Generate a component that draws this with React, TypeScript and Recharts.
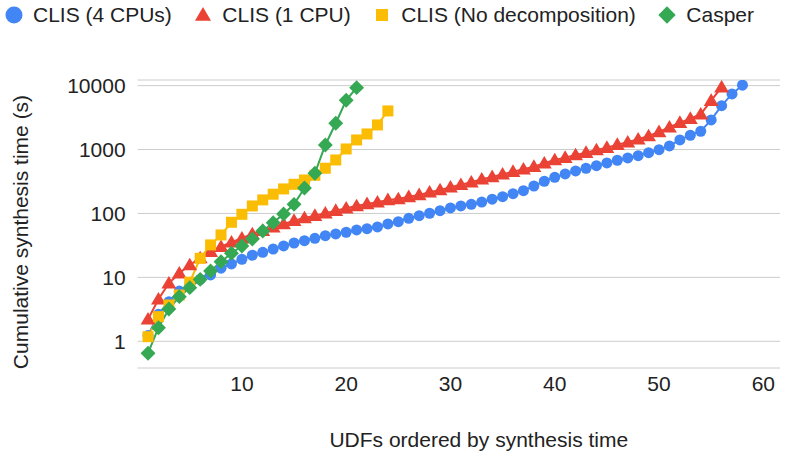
import React from 'react';
import { LineChart, Line, XAxis, YAxis, CartesianGrid } from 'recharts';

const FONT = "'Liberation Sans', Arial, sans-serif";

// cumulative synthesis time (s), UDF index starts at 1
const clis4Cpus = [
  1.23, 2.65, 4.17, 6.1, 7.7, 9.3, 10.9, 13.9, 16.2, 19.2,
  22.2, 24.7, 27.8, 31, 34.5, 37.5, 40.9, 45, 47.8, 50.8,
  55.2, 57.8, 61.5, 68.5, 74.5, 84, 92.4, 100.8, 110.6, 122,
  131, 139, 151, 167, 183, 204, 227, 269, 319, 368,
  415, 462, 510, 560, 617, 680, 739, 803, 894, 996,
  1138, 1413, 1674, 1933, 2904, 4864, 7413, 10150,
];
const clis1Cpu = [
  2.21, 4.54, 8.1, 11.6, 15.6, 20.1, 25.3, 30.2, 35.4, 40.9,
  47.8, 53.8, 60.8, 68.5, 77.1, 85.1, 92.4, 100.8, 110.6, 120.5,
  131, 141, 150, 163, 168, 182, 195, 215, 233, 257,
  282, 308, 343, 373, 410, 451, 492, 540, 610, 687,
  747, 823, 894, 986, 1071, 1194, 1302, 1450, 1633, 1887,
  2235, 2637, 3046, 3569, 5825, 9440,
];
const clisNoDecomp = [
  1.18, 2.43, 3.7, 5.3, 8.4, 19.9, 32.2, 46.1, 72.8, 97,
  131, 163, 200, 242, 286, 334, 396, 510, 687, 1021,
  1413, 1754, 2427, 4020,
];
const casper = [
  0.65, 1.63, 3.2, 4.99, 6.9, 9.3, 12.6, 17.6, 23.8, 31,
  39.9, 53.2, 71.8, 98, 139, 250, 426, 1180, 2583, 5900,
  9300,
];

const xTicks = [10, 20, 30, 40, 50, 60];
const yTicks = [1, 10, 100, 1000, 10000];

const series = [
  { key: 'cpu4', name: 'CLIS (4 CPUs)', color: '#4285F4', shape: 'circle', values: clis4Cpus },
  { key: 'cpu1', name: 'CLIS (1 CPU)', color: '#EA4335', shape: 'triangle', values: clis1Cpu },
  { key: 'nodec', name: 'CLIS (No decomposition)', color: '#FBBC04', shape: 'square', values: clisNoDecomp },
  { key: 'casper', name: 'Casper', color: '#34A853', shape: 'diamond', values: casper },
];

const count = Math.max(...series.map(s => s.values.length));
const rows = Array.from({ length: count }, (_, i) => {
  const row: any = { x: i + 1 };
  series.forEach(s => {
    if (i < s.values.length) row[s.key] = s.values[i];
  });
  return row;
});

function Shape({ shape, cx, cy, color, size }: any) {
  if (shape === 'circle') return <circle cx={cx} cy={cy} r={size * 0.5} fill={color} />;
  if (shape === 'triangle') {
    const h = size * 1.05;
    const w = size * 0.62;
    return <polygon points={`${cx},${cy - h * 0.58} ${cx - w},${cy + h * 0.42} ${cx + w},${cy + h * 0.42}`} fill={color} />;
  }
  if (shape === 'square') {
    const a = size * 0.5;
    return <rect x={cx - a} y={cy - a} width={a * 2} height={a * 2} fill={color} />;
  }
  const d = size * 0.62;
  return <polygon points={`${cx},${cy - d} ${cx + d},${cy} ${cx},${cy + d} ${cx - d},${cy}`} fill={color} />;
}

const legendSizes: any = { circle: 17, triangle: 13, square: 12, diamond: 14 };

function ChartLegend() {
  return (
    <div style={{ position: 'absolute', top: 0, left: 3.5, height: 29, display: 'flex', alignItems: 'center', fontFamily: FONT, fontSize: 21, color: '#222', whiteSpace: 'nowrap' }}>
      {series.map(s => (
        <div key={s.key} style={{ display: 'flex', alignItems: 'center', marginRight: 21 }}>
          <svg width={20} height={20} style={{ marginRight: 9.5 }}>
            <Shape shape={s.shape} cx={10} cy={10} color={s.color} size={legendSizes[s.shape]} />
          </svg>
          <span>{s.name}</span>
        </div>
      ))}
    </div>
  );
}

export default function App() {
  return (
    <div style={{ position: 'absolute', left: 0, top: 0, width: 788, height: 463, background: '#fff' }}>
      <ChartLegend />
      <LineChart width={788} height={463} data={rows} margin={{ top: 80, right: 8, bottom: 0, left: 0 }}>
        <CartesianGrid vertical={false} stroke="#cccccc" />
        <XAxis
          type="number"
          dataKey="x"
          domain={[0, 61.6]}
          ticks={xTicks}
          height={95}
          axisLine={false}
          tickLine={false}
          tickSize={6}
          tickMargin={2.5}
          tick={{ fill: '#222', fontSize: 21, fontFamily: FONT }}
          label={{ value: 'UDFs ordered by synthesis time', position: 'insideBottom', offset: 16, dx: 20, fill: '#222', fontSize: 21, fontFamily: FONT }}
        />
        <YAxis
          type="number"
          scale="log"
          domain={[0.382, 12250]}
          allowDataOverflow
          ticks={yTicks}
          width={137.6}
          axisLine={false}
          tickLine={false}
          tickSize={6}
          tickMargin={6}
          tick={{ fill: '#222', fontSize: 21, fontFamily: FONT }}
          label={(props: any) => {
            const vb = props.viewBox || {};
            const cx = 20;
            const cy = (vb.y ?? 80) + (vb.height ?? 288) / 2 + 8;
            return (
              <text x={cx} y={cy} transform={`rotate(-90 ${cx} ${cy})`} textAnchor="middle" dominantBaseline="central" fill="#222" fontSize={21} fontFamily={FONT}>
                Cumulative synthesis time (s)
              </text>
            );
          }}
        />
        {series.map(s => (
          <Line
            key={s.key}
            dataKey={s.key}
            name={s.name}
            stroke={s.color}
            strokeWidth={2}
            isAnimationActive={false}
            connectNulls={false}
            activeDot={false}
            dot={(p: any) => {
              if (p.cx == null || p.cy == null || p.value == null) return <g key={`${s.key}-${p.index}`} />;
              return <Shape key={`${s.key}-${p.index}`} shape={s.shape} cx={p.cx} cy={p.cy} color={s.color} size={s.shape === 'circle' ? 11 : s.shape === 'triangle' ? 12 : s.shape === 'square' ? 11 : 12} />;
            }}
          />
        ))}
      </LineChart>
    </div>
  );
}
